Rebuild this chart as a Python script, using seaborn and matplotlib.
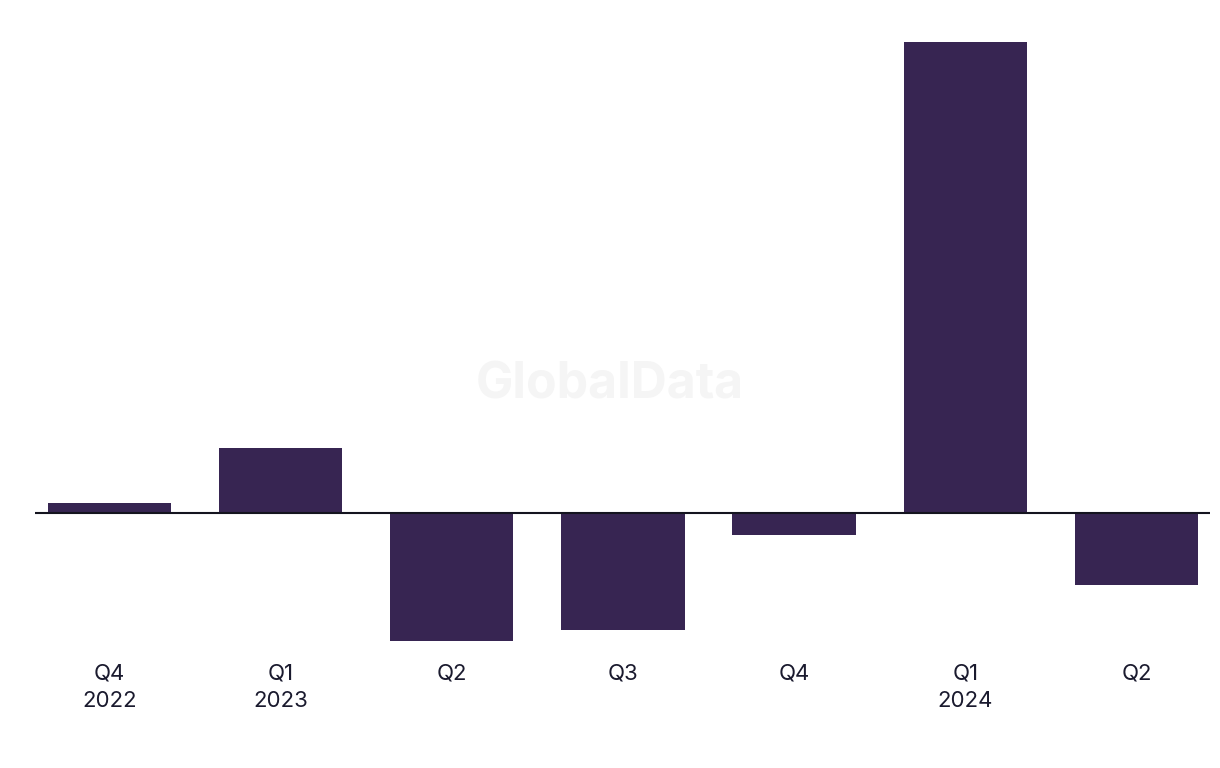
import matplotlib
matplotlib.use("Agg")
import matplotlib.pyplot as plt
import seaborn as sns
import pandas as pd

# quarterly change (arbitrary units)
quarters = ["Q4 2022", "Q1 2023", "Q2 2023", "Q3 2023", "Q4 2023", "Q1 2024", "Q2 2024"]
tick_labels = ["Q4\n2022", "Q1\n2023", "Q2", "Q3", "Q4", "Q1\n2024", "Q2"]
values = [10, 65, -128, -117, -22, 471, -72]

df = pd.DataFrame({"quarter": quarters, "value": values})

sns.set_style("white")
plt.rcParams["font.family"] = ["Inter", "DejaVu Sans"]

fig = plt.figure(figsize=(12.2, 7.68), dpi=100)
ax = fig.add_axes([35 / 1220, 1 - 641 / 768, 1175 / 1220, 599 / 768])

sns.barplot(data=df, x="quarter", y="value", color="#372552", saturation=1,
            width=0.72, linewidth=0, ax=ax)

ax.axhline(0, color="#14141f", lw=1.5, zorder=5)
ax.set_xlim(-0.435, 6.43)
ax.set_ylim(-128, 471)

ax.set_xticks(range(len(tick_labels)))
ax.set_xticklabels(tick_labels, fontsize=16, color="#1a1a2e")
for t in ax.get_xticklabels():
    t.set_linespacing(1.5)
ax.tick_params(axis="x", length=0, pad=16)
ax.set_yticks([])
ax.set_xlabel("")
ax.set_ylabel("")
sns.despine(ax=ax, left=True, bottom=True)

# watermark
fig.text(610 / 1220, 1 - 385 / 768, "GlobalData", fontsize=36, fontweight="bold",
         color="#f5f5f5", ha="center", va="center", zorder=0)

fig.savefig("out.png", dpi=100)
